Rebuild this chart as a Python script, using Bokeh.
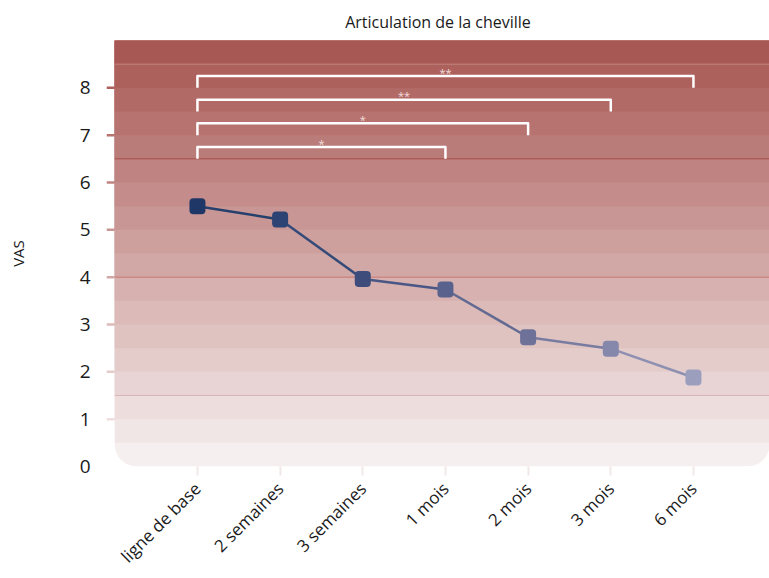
import math
from bokeh.plotting import figure
from bokeh.models import Range1d, FixedTicker, ColumnDataSource
from bokeh.core.properties import value
from bokeh.embed import file_html
from bokeh.resources import INLINE

# ---- data ----
categories = ["ligne de base", "2 semaines", "3 semaines", "1 mois", "2 mois", "3 mois", "6 mois"]
vas_values = [5.5, 5.22, 3.96, 3.74, 2.73, 2.49, 1.88]
marker_colors = ["#1F3766", "#2C4373", "#3E4C7C", "#58628C", "#6E7198", "#8587AB", "#9C9EBE"]
segment_colors = ["#26406E", "#344A79", "#4A5786", "#626A92", "#787CA1", "#8E90B2"]

bracket_ends = ["1 mois", "2 mois", "3 mois", "6 mois"]
bracket_levels = [6.75, 7.25, 7.75, 8.25]
bracket_labels = ["*", "*", "**", "**"]

y_ticks = [0, 1, 2, 3, 4, 5, 6, 7, 8]

# background bands (from bottom to top), 0.5 unit each
band_colors = ["#F6EFEF", "#F1E6E6", "#EDDDDD", "#E8D4D4", "#E4CCCB", "#DFC3C1",
               "#DBBAB8", "#D6B1AF", "#D1A8A6", "#CD9F9D", "#C89694", "#C48D8B",
               "#BF8482", "#BA7C79", "#B6736F", "#B16A66", "#AD615D", "#A85854"]
ref_lines = [1.5, 4.0, 6.5, 8.5]
ref_line_colors = ["#D7B6B5", "#C97874", "#A34E4A", "#C48682"]

FONT = "Open Sans"
X_LEFT, X_RIGHT = -1.0, 6.92

p = figure(width=769, height=578,
           x_range=Range1d(-1.1, 6.92), y_range=Range1d(0, 9),
           output_backend="svg", toolbar_location=None,
           min_border_left=106, min_border_right=0,
           min_border_top=40, min_border_bottom=110,
           title="Articulation de la cheville")

p.outline_line_color = None
p.xgrid.visible = False
p.ygrid.visible = False
p.background_fill_color = "white"
p.border_fill_color = "white"

# title
p.title.align = "center"
p.title.text_font = FONT
p.title.text_font_size = "16px"
p.title.text_font_style = "normal"
p.title.text_color = "#1a1a1a"
p.title.offset = 12
p.title.standoff = 15

# background bands (stacked from bottom so no seams)
n = len(band_colors)
for j, c in enumerate(band_colors):
    p.quad(left=X_LEFT, right=X_RIGHT, bottom=j * 0.5, top=9,
           fill_color=c, line_color=None,
           border_radius=(0, 0, 22, 22) if j == 0 else 0)

# reference lines
p.segment(x0=[X_LEFT] * len(ref_lines), x1=[X_RIGHT] * len(ref_lines),
          y0=ref_lines, y1=ref_lines, line_color=ref_line_colors, line_width=1)

# y tick marks (coloured like the band above)
tk = [t for t in y_ticks if t > 0]
p.segment(x0=[-1.1] * len(tk), x1=[X_LEFT] * len(tk), y0=tk, y1=tk,
          line_color=[band_colors[2 * t] if 2 * t < n else band_colors[-1] for t in tk],
          line_width=2.5)

# significance brackets
xs, ys, mids, lvls = [], [], [], []
for end, lvl in zip(bracket_ends, bracket_levels):
    e = categories.index(end)
    xs.append([0, 0, e, e])
    ys.append([lvl - 0.25, lvl, lvl, lvl - 0.25])
    mids.append(e / 2)
    lvls.append(lvl)
p.multi_line(xs, ys, line_color="white", line_width=2.5, line_join="round")
p.text(x=mids, y=lvls, text=bracket_labels, text_font=value(FONT),
       text_font_size="11px", text_color="#F2DEDD", text_align="center",
       text_baseline="middle", y_offset=-4)

# data line
xi = list(range(len(categories)))
p.segment(x0=xi[:-1], y0=vas_values[:-1], x1=xi[1:], y1=vas_values[1:],
          line_color=segment_colors, line_width=2.5)
src = ColumnDataSource(dict(x=xi, y=vas_values, c=marker_colors))
p.rect(x="x", y="y", width=16, height=16, width_units="screen", height_units="screen",
       fill_color="c", line_color=None, border_radius=4, source=src)

# x axis
xa = p.xaxis[0]
xa.ticker = FixedTicker(ticks=xi)
xa.major_label_overrides = {i: c for i, c in enumerate(categories)}
xa.major_label_orientation = math.pi / 4
xa.axis_line_color = None
xa.major_tick_out = 9
xa.major_tick_in = 0
xa.major_tick_line_color = "#F1E8E8"
xa.major_tick_line_width = 2
xa.minor_tick_line_color = None
xa.major_label_text_font = FONT
xa.major_label_text_font_size = "17px"
xa.major_label_text_color = "#1a1a1a"
xa.major_label_standoff = 10

# y axis
ya = p.yaxis[0]
ya.ticker = FixedTicker(ticks=y_ticks)
ya.axis_line_color = None
ya.major_tick_line_color = None
ya.major_tick_out = 0
ya.major_tick_in = 0
ya.minor_tick_line_color = None
ya.major_label_text_font = FONT
ya.major_label_text_font_size = "19px"
ya.major_label_text_color = "#1a1a1a"
ya.major_label_standoff = 16
ya.axis_label = "VAS"
ya.axis_label_text_font = FONT
ya.axis_label_text_font_size = "15px"
ya.axis_label_text_font_style = "normal"
ya.axis_label_text_color = "#1a1a1a"
ya.axis_label_standoff = 49

open("out.html", "w").write(file_html(p, INLINE))
